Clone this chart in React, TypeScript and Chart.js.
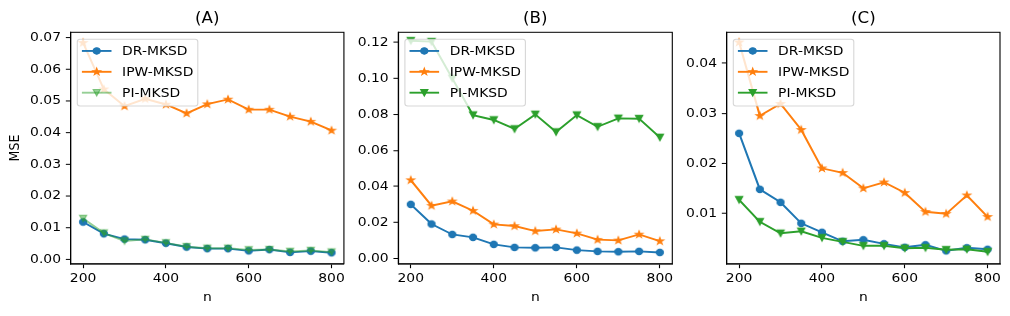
import React, { useEffect, useRef } from 'react';
import { Chart, registerables } from 'chart.js';

Chart.register(...registerables);

// ---------------- data ----------------
const nValues = [200, 250, 300, 350, 400, 450, 500, 550, 600, 650, 700, 750, 800];
const xTickValues = [200, 400, 600, 800];
const seriesLabels = ['DR-MKSD', 'IPW-MKSD', 'PI-MKSD'];
const panelTitles = ['(A)', '(B)', '(C)'];

const drA = [0.0118, 0.0081, 0.0064, 0.0062, 0.0051, 0.0039, 0.0034, 0.0034, 0.0027, 0.0031, 0.0022, 0.0026, 0.0021];
const ipwA = [0.0684, 0.0537, 0.0484, 0.0507, 0.0489, 0.0461, 0.049, 0.0505, 0.0473, 0.0473, 0.0451, 0.0435, 0.0407];
const piA = [0.0129, 0.0083, 0.0058, 0.0063, 0.0052, 0.004, 0.0035, 0.0035, 0.003, 0.0031, 0.0025, 0.0028, 0.0023];

const drB = [0.03, 0.0191, 0.0133, 0.0117, 0.0078, 0.0061, 0.0059, 0.0061, 0.0046, 0.0039, 0.0037, 0.0039, 0.0033];
const ipwB = [0.0435, 0.0293, 0.0317, 0.0265, 0.0189, 0.018, 0.0152, 0.0161, 0.0139, 0.0104, 0.01, 0.0133, 0.0096];
const piB = [0.1209, 0.1204, 0.1, 0.0796, 0.0769, 0.0719, 0.08, 0.0702, 0.0796, 0.0731, 0.0778, 0.0776, 0.0672];

const drC = [0.026, 0.0148, 0.0122, 0.008, 0.0062, 0.0044, 0.0047, 0.0039, 0.0032, 0.0037, 0.0025, 0.0031, 0.0028];
const ipwC = [0.0442, 0.0295, 0.0319, 0.0267, 0.019, 0.0181, 0.015, 0.0162, 0.0141, 0.0103, 0.0099, 0.0136, 0.0093];
const piC = [0.0127, 0.0083, 0.006, 0.0064, 0.0051, 0.0043, 0.0035, 0.0035, 0.003, 0.0031, 0.0027, 0.0028, 0.0023];

const yTicksA = [0, 0.01, 0.02, 0.03, 0.04, 0.05, 0.06, 0.07];
const yTicksB = [0, 0.02, 0.04, 0.06, 0.08, 0.1, 0.12];
const yTicksC = [0.01, 0.02, 0.03, 0.04];

// ---------------- styles ----------------
const BLUE = '#1f77b4';
const ORANGE = '#ff7f0e';
const GREEN = '#2ca02c';
const GREEN_ALPHA = 'rgba(44,160,44,0.5)';
const FONT = "'DejaVu Sans', sans-serif";
const LINE_W = 2.08;
const TICK_FONT = 13.9;
const TITLE_FONT = 16.7;
const TICK_LEN = 4.86;
const SPINE_W = 1.11;

// The figure is laid out at 1010x349 and drawn squeezed vertically to 316, like the reference.
const DRAW_HEIGHT = 349;
const OUT_HEIGHT = 316;
const Y_SQUEEZE = OUT_HEIGHT / DRAW_HEIGHT;
const CHART_TOP = 35.67;
const CHART_BOTTOM = 291.35;

type MarkerKind = 'circle' | 'star' | 'triangleDown';

function drawMarkerShape(ctx: CanvasRenderingContext2D, kind: MarkerKind, x: number, y: number, color: string) {
  ctx.save();
  ctx.fillStyle = color;
  ctx.strokeStyle = color;
  ctx.lineWidth = 1.2;
  ctx.lineJoin = 'miter';
  ctx.beginPath();
  if (kind === 'circle') {
    ctx.arc(x, y, 3.55, 0, Math.PI * 2);
  } else if (kind === 'star') {
    const r = 3.9;
    for (let i = 0; i < 10; i++) {
      const rr = i % 2 === 0 ? r : r * 0.381966;
      const a = -Math.PI / 2 + (i * Math.PI) / 5;
      const px = x + rr * Math.cos(a);
      const py = y + rr * Math.sin(a);
      if (i === 0) ctx.moveTo(px, py);
      else ctx.lineTo(px, py);
    }
  } else {
    const r = 3.6;
    ctx.moveTo(x, y + r);
    ctx.lineTo(x - r, y - r);
    ctx.lineTo(x + r, y - r);
  }
  ctx.closePath();
  ctx.fill();
  ctx.stroke();
  ctx.restore();
}

function makeMarker(kind: MarkerKind, color: string): HTMLCanvasElement {
  const c = document.createElement('canvas');
  c.width = 16;
  c.height = 16;
  const ctx = c.getContext('2d')!;
  drawMarkerShape(ctx, kind, 8, 8, color);
  return c;
}

interface PanelSpec {
  title: string;
  left: number;
  width: number;
  yAxisWidth: number;
  padRight: number;
  yMin: number;
  yMax: number;
  yTicks: number[];
  yLabel: string | null;
  values: number[][];
  colors: string[];
}

const panels: PanelSpec[] = [
  {
    title: panelTitles[0], left: 0, width: 350, yAxisWidth: 70.7, padRight: 5.7,
    yMin: -0.0014, yMax: 0.0717, yTicks: yTicksA, yLabel: 'MSE',
    values: [drA, ipwA, piA], colors: [BLUE, ORANGE, GREEN_ALPHA],
  },
  {
    title: panelTitles[1], left: 350, width: 330, yAxisWidth: 48.3, padRight: 7.7,
    yMin: -0.003, yMax: 0.1256, yTicks: yTicksB, yLabel: null,
    values: [drB, ipwB, piB], colors: [BLUE, ORANGE, GREEN],
  },
  {
    title: panelTitles[2], left: 680, width: 330, yAxisWidth: 46.7, padRight: 10,
    yMin: -0.0001, yMax: 0.0462, yTicks: yTicksC, yLabel: null,
    values: [drC, ipwC, piC], colors: [BLUE, ORANGE, GREEN],
  },
];

const markerKinds: MarkerKind[] = ['circle', 'star', 'triangleDown'];

const framePlugin = {
  id: 'frameAndLegend',
  afterDatasetsDraw(chart: any) {
    const { ctx, chartArea } = chart;
    const { left, top, right, bottom } = chartArea;
    ctx.save();
    ctx.strokeStyle = '#000';
    ctx.lineWidth = SPINE_W;
    ctx.strokeRect(left, top, right - left, bottom - top);

    // legend (upper left, matplotlib style)
    const bx = left + 6.6;
    const by = top + 7.7;
    const bw = 120.5;
    const bh = 73.7;
    const rad = 2.8;
    ctx.beginPath();
    ctx.moveTo(bx + rad, by);
    ctx.lineTo(bx + bw - rad, by);
    ctx.arcTo(bx + bw, by, bx + bw, by + rad, rad);
    ctx.lineTo(bx + bw, by + bh - rad);
    ctx.arcTo(bx + bw, by + bh, bx + bw - rad, by + bh, rad);
    ctx.lineTo(bx + rad, by + bh);
    ctx.arcTo(bx, by + bh, bx, by + bh - rad, rad);
    ctx.lineTo(bx, by + rad);
    ctx.arcTo(bx, by, bx + rad, by, rad);
    ctx.closePath();
    ctx.fillStyle = 'rgba(255,255,255,0.8)';
    ctx.fill();
    ctx.strokeStyle = 'rgba(204,204,204,0.8)';
    ctx.lineWidth = 1.1;
    ctx.stroke();

    chart.data.datasets.forEach((ds: any, i: number) => {
      const ry = by + 12.9 + i * 23.05;
      ctx.beginPath();
      ctx.strokeStyle = ds.borderColor;
      ctx.lineWidth = LINE_W;
      ctx.moveTo(bx + 4.6, ry);
      ctx.lineTo(bx + 34.2, ry);
      ctx.stroke();
      drawMarkerShape(ctx, ds.markerKind, bx + 19.4, ry, ds.borderColor);
      ctx.fillStyle = '#000';
      ctx.font = `${TICK_FONT}px ${FONT}`;
      ctx.textBaseline = 'alphabetic';
      ctx.textAlign = 'left';
      ctx.fillText(ds.label, bx + 44.8, ry + 4.9);
    });
    ctx.restore();
  },
};

function Panel({ spec }: { spec: PanelSpec }) {
  const ref = useRef<HTMLCanvasElement | null>(null);
  useEffect(() => {
    const canvas = ref.current;
    if (!canvas) return;
    canvas.width = spec.width;
    canvas.height = DRAW_HEIGHT;
    const datasets = spec.values.map((vals, i) => ({
      label: seriesLabels[i],
      data: nValues.map((n, j) => ({ x: n, y: vals[j] })),
      borderColor: spec.colors[i],
      backgroundColor: spec.colors[i],
      borderWidth: LINE_W,
      pointStyle: makeMarker(markerKinds[i], spec.colors[i]),
      pointRadius: 4,
      tension: 0,
      order: 2 - i,
      markerKind: markerKinds[i],
    }));
    const tickFont = { family: FONT, size: TICK_FONT };
    const chart = new Chart(canvas, {
      type: 'line',
      data: { datasets: datasets as any },
      options: {
        responsive: false,
        animation: false,
        events: [],
        devicePixelRatio: 1,
        layout: { padding: { top: 0, left: 0, right: spec.padRight, bottom: 0 } },
        plugins: {
          legend: { display: false },
          tooltip: { enabled: false },
          title: {
            display: true,
            text: spec.title,
            fullSize: false,
            color: '#000',
            font: { family: FONT, size: TITLE_FONT, weight: 'normal' as any, lineHeight: 1.2 },
            padding: { top: 11.5, bottom: CHART_TOP - 11.5 - TITLE_FONT * 1.2 },
          },
        },
        scales: {
          x: {
            type: 'linear',
            min: 170,
            max: 830,
            afterBuildTicks: (scale: any) => {
              scale.ticks = xTickValues.map((v) => ({ value: v }));
            },
            afterFit: (scale: any) => {
              scale.height = DRAW_HEIGHT - CHART_BOTTOM;
            },
            grid: { drawOnChartArea: false, drawTicks: true, tickLength: TICK_LEN, tickColor: '#000', tickWidth: SPINE_W, color: '#000' },
            border: { display: true, color: '#000', width: SPINE_W },
            ticks: { color: '#000', font: tickFont, padding: 3.4, maxRotation: 0, callback: (v: any) => String(v) },
            title: { display: true, text: 'n', color: '#000', font: { family: FONT, size: TICK_FONT }, padding: { top: 0, bottom: 11.5 } },
          },
          y: {
            type: 'linear',
            min: spec.yMin,
            max: spec.yMax,
            afterBuildTicks: (scale: any) => {
              scale.ticks = spec.yTicks.map((v) => ({ value: v }));
            },
            afterFit: (scale: any) => {
              scale.width = spec.yAxisWidth;
            },
            grid: { drawOnChartArea: false, drawTicks: true, tickLength: TICK_LEN, tickColor: '#000', tickWidth: SPINE_W, color: '#000' },
            border: { display: true, color: '#000', width: SPINE_W },
            ticks: { color: '#000', font: tickFont, padding: 4.86, callback: (v: any) => Number(v).toFixed(2) },
            title: {
              display: !!spec.yLabel,
              text: spec.yLabel || '',
              color: '#000',
              font: { family: FONT, size: TICK_FONT },
              padding: { top: 7.5, bottom: 0 },
            },
          },
        },
      },
      plugins: [framePlugin],
    });
    // Redraw into a 316px tall bitmap with a vertical squeeze, so the 349px layout
    // lands on the reference's proportions while staying crisp.
    canvas.height = OUT_HEIGHT;
    canvas.style.height = `${OUT_HEIGHT}px`;
    chart.ctx.setTransform(1, 0, 0, Y_SQUEEZE, 0, 0);
    chart.draw();
    return () => chart.destroy();
  }, [spec]);
  return (
    <canvas
      ref={ref}
      width={spec.width}
      height={DRAW_HEIGHT}
      style={{ position: 'absolute', left: spec.left, top: 0, width: spec.width, height: OUT_HEIGHT }}
    />
  );
}

export default function App() {
  return (
    <div style={{ position: 'absolute', left: 0, top: 0, width: 1010, height: OUT_HEIGHT, background: '#fff', overflow: 'hidden' }}>
      {panels.map((p) => (
        <Panel key={p.title} spec={p} />
      ))}
    </div>
  );
}
